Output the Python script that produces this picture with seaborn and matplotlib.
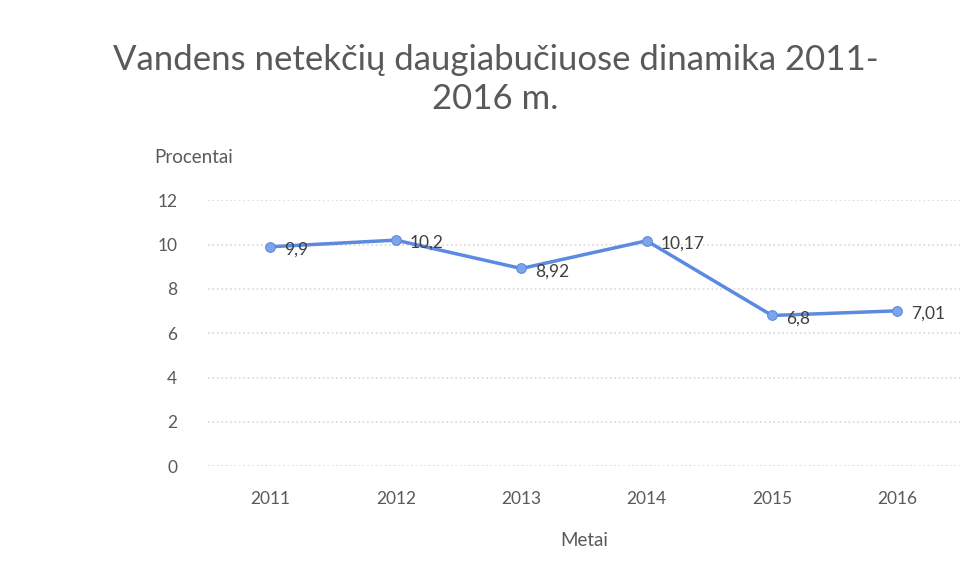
import pandas as pd
import seaborn as sns
import matplotlib.pyplot as plt

years = ["2011", "2012", "2013", "2014", "2015", "2016"]
losses = [9.9, 10.2, 8.92, 10.17, 6.8, 7.01]
label_text = ["9,9", "10,2", "8,92", "10,17", "6,8", "7,01"]

df = pd.DataFrame({"Metai": years, "Procentai": losses})

sns.set_theme(style="white")
plt.rcParams["font.family"] = ["Lato", "DejaVu Sans"]

fig = plt.figure(figsize=(9.66, 5.77), dpi=100)
ax = fig.add_axes([0.215, 0.192, 0.779, 0.461])

sns.lineplot(data=df, x="Metai", y="Procentai", ax=ax, color="#5B8AE0",
             linewidth=2.5, marker="o", markersize=7,
             markerfacecolor="#7FA3E8", markeredgecolor="#5B8AE0")

for i, (v, t) in enumerate(zip(losses, label_text)):
    ax.annotate(t, (i, v), xytext=(10, -2), textcoords="offset points",
                ha="left", va="center", fontsize=12.5, color="#404040")

ax.set_ylim(0, 12)
ax.set_yticks(range(0, 13, 2))
ax.set_xlim(-0.5, 5.5)
ax.grid(axis="y", color="#d9d9d9", linestyle=":", linewidth=1.2)
ax.grid(axis="x", visible=False)
for s in ax.spines.values():
    s.set_visible(False)
ax.tick_params(axis="both", length=0, labelsize=12.5, labelcolor="#595959")
ax.tick_params(axis="y", pad=22)
ax.tick_params(axis="x", pad=18)

ax.set_xlabel("Metai", fontsize=13.5, color="#595959", labelpad=18)
ax.set_ylabel("")
fig.text(0.16, 0.727, "Procentai", fontsize=13.5, color="#595959", ha="left", va="center")

fig.text(0.513, 0.862, "Vandens netekčių daugiabučiuose dinamika 2011-\n2016 m.",
         fontsize=25, color="#595959", ha="center", va="center", linespacing=1.25)

fig.savefig("out.png", dpi=100, facecolor="white")
